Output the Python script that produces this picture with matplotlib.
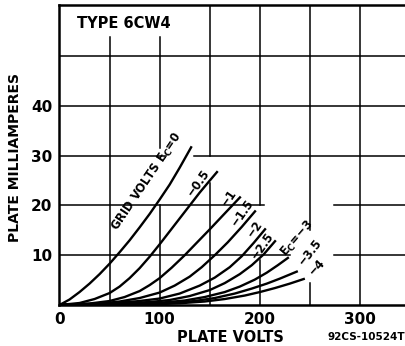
import matplotlib
matplotlib.use("Agg")
import matplotlib.pyplot as plt

# plate characteristic curves (plate volts, plate mA)
grid_volts = ["0", "-0.5", "-1", "-1.5", "-2", "-2.5", "-3", "-3.5", "-4"]

ec_0 = [(0, 0), (10, 1.1), (20, 2.6), (30, 4.3), (40, 6.2), (50, 8.3), (60, 10.6), (70, 13.0),
        (80, 15.6), (90, 18.3), (100, 21.2), (110, 24.2), (120, 27.6), (132, 31.9)]
ec_05 = [(0, 0), (20, 0.4), (35, 1.2), (50, 2.4), (60, 3.7), (70, 5.4), (80, 7.4), (90, 9.7),
         (100, 12.2), (110, 14.8), (120, 17.4), (130, 20.0), (140, 22.6), (150, 25.0), (158, 26.9)]
ec_1 = [(0, 0), (30, 0.3), (50, 0.8), (65, 1.6), (80, 2.8), (90, 4.0), (100, 5.4), (112, 7.5),
        (125, 10.0), (137, 12.5), (150, 15.2), (165, 18.4), (181, 21.8)]
ec_15 = [(0, 0), (40, 0.3), (60, 0.7), (80, 1.4), (100, 2.5), (115, 3.9), (130, 5.7), (142, 7.6),
         (155, 10.0), (168, 12.6), (182, 15.7), (196, 19.0)]
ec_2 = [(0, 0), (50, 0.3), (80, 0.8), (100, 1.3), (120, 2.3), (140, 3.9), (155, 5.5), (170, 7.6),
        (182, 9.8), (194, 12.5), (206, 15.4)]
ec_25 = [(0, 0), (60, 0.3), (90, 0.6), (110, 1.0), (130, 1.8), (150, 3.0), (165, 4.4), (180, 6.2),
         (192, 8.0), (204, 10.2), (216, 13.0)]
ec_3 = [(0, 0), (70, 0.2), (100, 0.45), (125, 0.9), (145, 1.6), (165, 2.6), (180, 3.7), (195, 5.1),
        (207, 6.5), (218, 8.0), (229, 9.6)]
ec_35 = [(0, 0), (80, 0.15), (110, 0.4), (135, 0.8), (155, 1.4), (175, 2.3), (192, 3.3), (207, 4.3),
         (220, 5.3), (238, 6.8)]
ec_4 = [(0, 0), (90, 0.1), (120, 0.35), (145, 0.7), (165, 1.2), (185, 1.9), (200, 2.6), (215, 3.4),
        (230, 4.3), (245, 5.3)]
curves = [ec_0, ec_05, ec_1, ec_15, ec_2, ec_25, ec_3, ec_35, ec_4]

# curve labels: text, (volts, mA) centre, angle
MINUS = "\u2212"
curve_labels = ["GRID VOLTS E$_\\mathbf{C}$=0", MINUS + "0.5", MINUS + "1", MINUS + "1.5",
                MINUS + "2", MINUS + "2.5", "E$_\\mathbf{C}$=" + MINUS + "3", MINUS + "3.5",
                MINUS + "4"]
label_pos = [(88, 24.8), (139, 24.6), (169, 21.6), (183, 18.5), (195, 15.3),
             (203, 12.0), (238, 13.4), (250.5, 10.6), (257, 7.6)]
label_rot = [56, 55, 55, 55, 55, 55, 49, 52, 48]

x_ticks = [0, 100, 200, 300]
y_ticks = [10, 20, 30, 40]

fig = plt.figure(figsize=(4.06, 3.46), dpi=100)
ax = fig.add_axes([59.5 / 406, 41 / 346, 346.5 / 406, 300 / 346])
ax.set_xlim(0, 346)
ax.set_ylim(0, 60.3)

# grid drawn by hand, with the gaps the draftsman left around the labels
vgrid = {50: [(0, 53.8)], 100: [(0, 20), (31.5, 53.8)], 150: [(0, 24.5), (30, 60.3)],
         200: [(0, 9), (20, 60.3)], 250: [(0, 4.5), (15, 60.3)], 300: [(0, 60.3)]}
hgrid = {10: [(0, 230), (274, 346)], 20: [(0, 204), (274, 346)], 30: [(0, 106), (134, 346)],
         40: [(0, 346)], 50: [(0, 346)]}
for x, segs in vgrid.items():
    for a, b in segs:
        ax.plot([x, x], [a, b], color="black", lw=1.1, zorder=1)
for y, segs in hgrid.items():
    for a, b in segs:
        ax.plot([a, b], [y, y], color="black", lw=1.1, zorder=1)

for c in curves:
    ax.plot([p[0] for p in c], [p[1] for p in c], color="black", lw=1.7,
            solid_capstyle="butt", zorder=3)

for txt, (x, y), r in zip(curve_labels, label_pos, label_rot):
    ax.text(x, y, txt, rotation=r, ha="center", va="center", fontsize=9.2,
            fontweight="bold", fontstretch="condensed", rotation_mode="anchor")

for s in ["left", "bottom", "top"]:
    ax.spines[s].set_linewidth(1.8)
ax.spines["right"].set_visible(False)

ax.set_xticks(x_ticks)
ax.set_xticklabels([str(v) for v in x_ticks], fontsize=11, fontweight="bold")
ax.set_yticks(y_ticks)
ax.set_yticklabels([str(v) for v in y_ticks], fontsize=11, fontweight="bold")
ax.tick_params(length=0, pad=5)

fig.text(124 / 406, 1 - 23 / 346, "TYPE 6CW4", ha="center", va="center", fontsize=10.5,
         fontweight="bold")
fig.text(230 / 406, 1 - 337 / 346, "PLATE VOLTS", ha="center", va="center", fontsize=10.5,
         fontweight="bold")
fig.text(366 / 406, 1 - 337 / 346, "92CS-10524T", ha="center", va="center", fontsize=7.5,
         fontweight="bold")
fig.text(15 / 406, 1 - 158 / 346, "PLATE MILLIAMPERES", ha="center", va="center", rotation=90,
         fontsize=10, fontweight="bold")

fig.savefig("out.png", dpi=100)
